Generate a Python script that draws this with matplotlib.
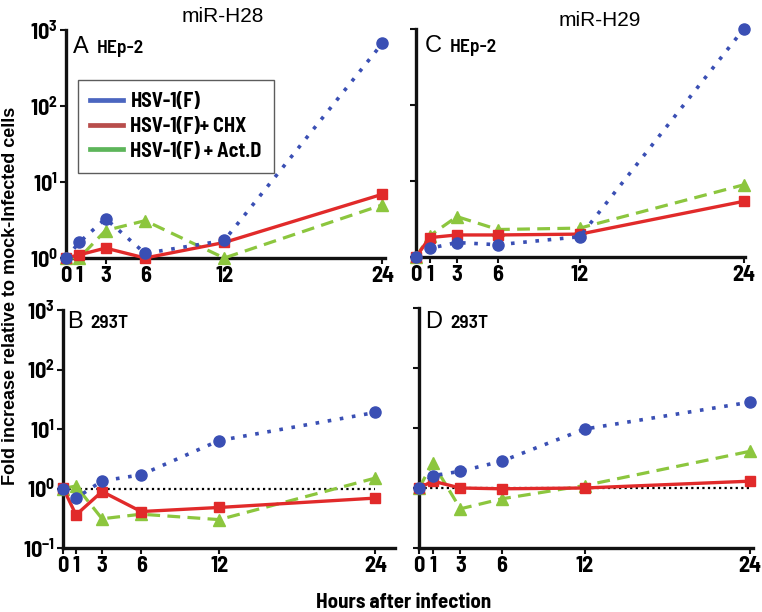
import matplotlib
matplotlib.use("Agg")
import matplotlib.pyplot as plt
from matplotlib.lines import Line2D
import numpy as np

hours = [0, 1, 3, 6, 12, 24]
xtick_labels = ["0", "1", "3", "6", "12", "24"]

# Panel A: miR-H28, HEp-2
a_hsv = [1.0, 1.6, 3.3, 1.15, 1.7, 670]
a_chx = [1.0, 1.1, 1.35, 1.0, 1.6, 6.9]
a_actd = [1.0, 1.0, 2.3, 3.1, 1.0, 5.0]
# Panel B: miR-H28, 293T
b_hsv = [1.0, 0.69, 1.34, 1.7, 6.4, 19]
b_chx = [1.03, 0.36, 0.89, 0.41, 0.48, 0.69]
b_actd = [1.0, 1.1, 0.31, 0.37, 0.30, 1.5]
# Panel C: miR-H29, HEp-2
c_hsv = [1.0, 1.3, 1.55, 1.45, 1.85, 1000]
c_chx = [1.0, 1.8, 1.95, 1.95, 2.0, 5.4]
c_actd = [1.0, 1.9, 3.4, 2.3, 2.4, 8.9]
# Panel D: miR-H29, 293T
d_hsv = [1.0, 1.6, 1.9, 2.8, 9.6, 27]
d_chx = [1.0, 1.3, 1.0, 0.97, 1.0, 1.3]
d_actd = [1.0, 2.6, 0.45, 0.66, 1.1, 4.1]

series_names = ["HSV-1(F)", "HSV-1(F)+ CHX", "HSV-1(F) + Act.D"]

NARROW = ["Barlow Semi Condensed", "DejaVu Sans"]
ARIAL = ["Liberation Sans", "DejaVu Sans"]
plt.rcParams['mathtext.fontset'] = 'custom'
plt.rcParams['mathtext.rm'] = 'Barlow Semi Condensed'
plt.rcParams['mathtext.bf'] = 'Barlow Semi Condensed:bold'

W, H = 762, 612
fig = plt.figure(figsize=(W / 100, H / 100), dpi=100)

BLUE = "#3a4fb4"
RED = "#e12a2a"
GREEN = "#8cc63e"


def px_axes(left, right, top, bottom):
    return fig.add_axes([left / W, 1 - bottom / H, (right - left) / W, (bottom - top) / H])


def draw(ax, hsv, chx, actd, ylim, xright, ylabels, refline):
    ax.set_yscale('log')
    if refline:
        ax.plot([0, 24], [1, 1], color='black', lw=1.6, ls=(0, (1, 1.5)), zorder=1)
    ax.plot(hours, actd, color=GREEN, lw=2.3, ls=(0, (4, 2.3)), marker='^', ms=8,
            clip_on=False, zorder=3)
    ax.plot(hours, chx, color=RED, lw=2.4, ls='-', marker='s', ms=7,
            clip_on=False, zorder=4)
    ax.plot(hours, hsv, color=BLUE, lw=2.6, ls=(0, (1, 2.4)), marker='o', ms=8,
            clip_on=False, zorder=5)
    ax.set_ylim(*ylim)
    ax.set_xlim(0, xright)
    for s in ['top', 'right']:
        ax.spines[s].set_visible(False)
    for s in ['left', 'bottom']:
        ax.spines[s].set_linewidth(2.4)
        ax.spines[s].set_color('#111111')
    ax.set_xticks(hours)
    ax.set_xticklabels(xtick_labels, fontfamily=NARROW, fontweight='bold', fontsize=16)
    lo, hi = int(round(np.log10(ylim[0]))), int(round(np.log10(ylim[1])))
    yt = [10.0 ** k for k in range(lo, hi + 1)]
    ax.set_yticks(yt)
    if ylabels:
        ax.set_yticklabels([r'$\mathbf{10^{%d}}$' % k for k in range(lo, hi + 1)], fontsize=16)
    else:
        ax.set_yticklabels([])
    ax.minorticks_off()
    ax.tick_params(axis='both', length=4, width=1.5, color='#111111', pad=2)
    ax.patch.set_alpha(0)


axA = px_axes(66, 385, 30, 258)
draw(axA, a_hsv, a_chx, a_actd, (1, 1000), 24.2, True, False)
axC = px_axes(416, 745, 29, 257)
draw(axC, c_hsv, c_chx, c_actd, (1, 1000), 24.1, False, False)
axB = px_axes(63, 395, 310, 548)
draw(axB, b_hsv, b_chx, b_actd, (0.1, 1000), 25.5, True, True)
axD = px_axes(419, 753, 308, 548)
draw(axD, d_hsv, d_chx, d_actd, (0.1, 1000), 24.2, False, True)

# legend in panel A
handles = [Line2D([], [], color="#4b66c0", lw=3.4),
           Line2D([], [], color="#b84d4b", lw=3.4),
           Line2D([], [], color="#5db55a", lw=3.4)]
leg = axA.legend(handles, series_names, loc='upper left', bbox_to_anchor=(0.038, 0.78),
                 borderaxespad=0, frameon=True, fancybox=False, handlelength=1.65,
                 labelspacing=0.28, borderpad=0.6, handletextpad=0.35,
                 prop={'family': NARROW, 'weight': 'bold', 'size': 14.5})
leg.get_frame().set_edgecolor('#333333')
leg.get_frame().set_linewidth(1.0)


def ftext(x, y, s, **kw):
    fig.text(x / W, 1 - y / H, s, **kw)


# titles
ftext(223, 16, "miR-H28", ha='center', va='center', fontsize=15, fontfamily=ARIAL)
ftext(600, 20, "miR-H29", ha='center', va='center', fontsize=15, fontfamily=ARIAL)

# panel labels
for (lx, cx, by, big, small) in [(73, 97, 53, "A", "HEp-2"), (425, 450, 52, "C", "HEp-2"),
                                 (67, 90, 328, "B", "293T"), (425, 450, 328, "D", "293T")]:
    ftext(lx, by, big, ha='left', va='baseline', fontsize=17, fontfamily=ARIAL)
    ftext(cx, by, small, ha='left', va='baseline', fontsize=14, fontfamily=NARROW,
          fontweight='semibold')

# axis labels
ftext(11, 296, "Fold increase relative to mock-Infected cells", rotation=90,
      ha='center', va='center', fontsize=13, fontweight='bold', fontfamily=ARIAL)
ftext(404, 602, "Hours after infection", ha='center', va='center', fontsize=15,
      fontweight='bold', fontfamily=NARROW)

fig.savefig("out.png", dpi=100)
